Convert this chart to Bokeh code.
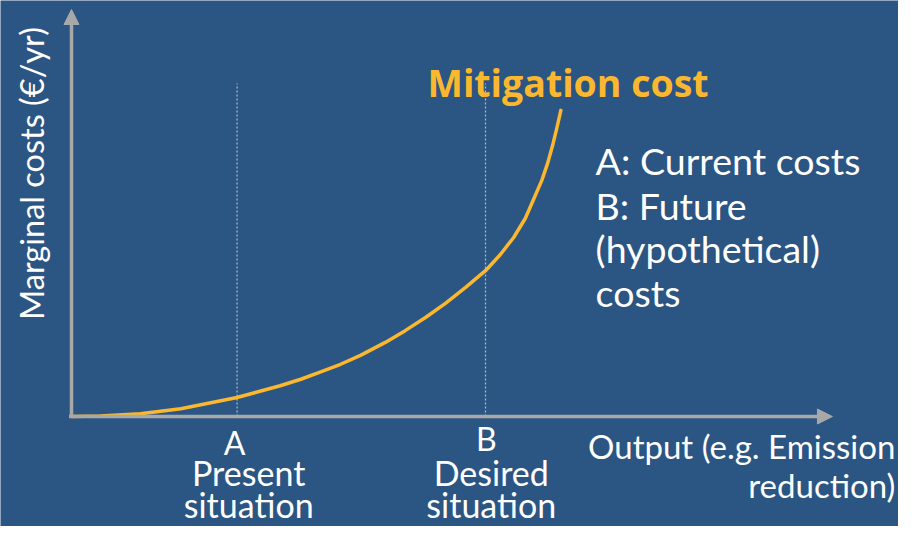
import numpy as np
from bokeh.plotting import figure
from bokeh.models import Range1d, Arrow, NormalHead
from bokeh.core.properties import value
from bokeh.embed import file_html
from bokeh.resources import INLINE

# ---- data ----
curve_x = [0.0, 0.35, 0.83, 1.32, 2.0, 2.52, 2.77, 3.01, 3.25, 3.49, 3.79, 4.03, 4.28, 4.52, 4.76, 5.0,
           5.18, 5.34, 5.48, 5.58, 5.68, 5.75, 5.81, 5.86, 5.91]
curve_y = [0.0, 0.01, 0.07, 0.19, 0.47, 0.76, 0.92, 1.10, 1.29, 1.51, 1.83, 2.12, 2.45, 2.80, 3.19, 3.60,
           4.0, 4.42, 4.89, 5.36, 5.83, 6.25, 6.69, 7.11, 7.56]
mark_names = ["A", "B"]
mark_x = [2.0, 5.0]
mark_top = [8.22, 8.22]
mark_desc = [["Present", "situation"], ["Desired", "situation"]]
curve_label = "Mitigation cost"
legend_lines = ["A: Current costs", "B: Future", "(hypothetical)", "costs"]
x_title = ["Output (e.g. Emission", "reduction)"]
y_title = "Marginal costs (\u20ac/yr)"
x_axis_end = 9.19
y_axis_end = 10.05

BG = "#2b5582"
ORANGE = "#fbb82f"
GREY = "#a8a8a8"
FONT = "Lato"

p = figure(width=898, height=526, output_backend="svg", toolbar_location=None,
           x_range=Range1d(-0.8575, 9.988), y_range=Range1d(-2.716, 10.272),
           x_axis_type=None, y_axis_type=None, min_border=0)
p.background_fill_color = BG
p.border_fill_color = BG
p.outline_line_color = None
p.grid.visible = False

# dotted verticals
p.segment(x0=mark_x, y0=[0, 0], x1=mark_x, y1=mark_top, line_color="#b4bcc8",
          line_width=1.2, line_dash="2 2")

# axes with arrows
p.add_layout(Arrow(end=NormalHead(size=15, fill_color=GREY, line_color=GREY, line_width=1),
                   x_start=-0.03, y_start=0, x_end=x_axis_end, y_end=0,
                   line_color=GREY, line_width=3.5))
p.add_layout(Arrow(end=NormalHead(size=15, fill_color=GREY, line_color=GREY, line_width=1),
                   x_start=0, y_start=-0.04, x_end=0, y_end=y_axis_end,
                   line_color=GREY, line_width=3.5))

# curve
p.line(curve_x, curve_y, line_color=ORANGE, line_width=3.5, line_join="round", line_cap="round")

# curve label
p.text(x=[4.30], y=[8.24], text=[curve_label], text_font=value("Open Sans"),
       text_font_style="bold", text_font_size="37.5px", text_color=ORANGE,
       text_align="left", text_baseline="alphabetic")

# explanation
p.text(x=[6.33] * 4, y=[6.31, 5.22, 4.14, 3.05], text=legend_lines, text_font=value(FONT),
       text_font_size="37.5px", text_color="white", text_align="left", text_baseline="alphabetic")

# x title
p.text(x=[9.95, 9.95], y=[-0.73, -1.69], text=x_title, text_font=value(FONT),
       text_font_size="33px", text_color="white", text_align="right", text_baseline="alphabetic")

# y title
p.text(x=[-0.483], y=[6.0], text=[y_title], angle=np.pi / 2, text_font=value(FONT),
       text_font_size="32.5px", text_color="white", text_align="center", text_baseline="alphabetic")

# mark letters
p.text(x=[1.97, 5.01], y=[-0.654, -0.531], text=mark_names, text_font=value(FONT),
       text_font_size="32px", text_color="white", text_align="center", text_baseline="alphabetic")

# mark descriptions
desc_x = [2.14, 5.07]
for dx, lines in zip(desc_x, mark_desc):
    p.text(x=[dx, dx], y=[-1.378, -2.168], text=lines, text_font=value(FONT),
           text_font_size="34px", text_color="white", text_align="center", text_baseline="alphabetic")

open("out.html", "w").write(file_html(p, INLINE))
